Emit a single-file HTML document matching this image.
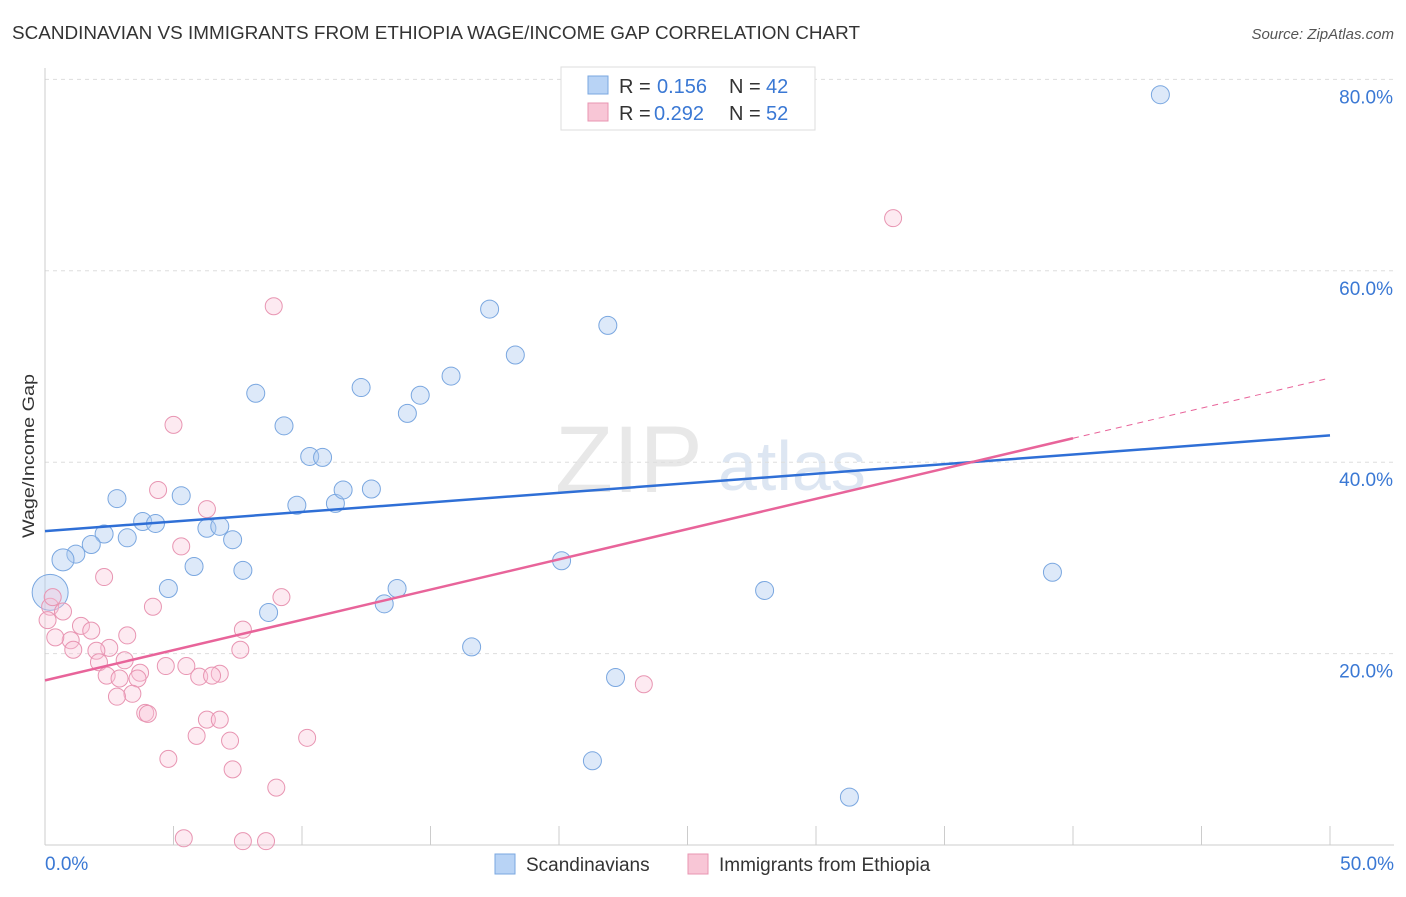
<!DOCTYPE html>
<html><head><meta charset="utf-8"><style>
body{margin:0;background:#fff;font-family:"Liberation Sans",sans-serif}
svg text{font-family:"Liberation Sans",sans-serif}
</style></head><body>
<svg id="chart" width="1406" height="892">
<text x="12" y="39" font-size="18" fill="#333" textLength="848" lengthAdjust="spacingAndGlyphs">SCANDINAVIAN VS IMMIGRANTS FROM ETHIOPIA WAGE/INCOME GAP CORRELATION CHART</text>
<text x="1394" y="39" font-size="15" fill="#555" text-anchor="end" font-style="italic">Source: ZipAtlas.com</text>
<text x="555" y="492" font-size="95" fill="#e8e8e8" font-family="Liberation Serif">ZIP</text>
<text x="718" y="490" font-size="70" fill="#dde6f2">atlas</text>
<g id="grid"></g>
<g id="axes"></g>
<text x="34" y="456" font-size="17" fill="#333" text-anchor="middle" textLength="164" lengthAdjust="spacingAndGlyphs" transform="rotate(-90 34 456)">Wage/Income Gap</text>
<g id="marks"></g>
<g id="trends"></g>
<g>
<rect x="561" y="67" width="254" height="63" fill="#fff" stroke="#ddd"/>
<rect x="588" y="76" width="20" height="18" fill="#b8d3f5" stroke="#7aa7e0"/>
<text x="619" y="93" font-size="20" fill="#333">R = </text><text x="657" y="93" font-size="20" fill="#3a78d4">0.156</text>
<text x="729" y="93" font-size="20" fill="#333">N = </text><text x="766" y="93" font-size="20" fill="#3a78d4">42</text>
<rect x="588" y="103" width="20" height="18" fill="#f8c6d6" stroke="#e895b2"/>
<text x="619" y="120" font-size="20" fill="#333">R = </text><text x="654" y="120" font-size="20" fill="#3a78d4">0.292</text>
<text x="729" y="120" font-size="20" fill="#333">N = </text><text x="766" y="120" font-size="20" fill="#3a78d4">52</text>
</g>
<g>
<rect x="495" y="854" width="20" height="20" fill="#b8d3f5" stroke="#7aa7e0"/>
<text x="526" y="871" font-size="19" fill="#333">Scandinavians</text>
<rect x="688" y="854" width="20" height="20" fill="#f8c6d6" stroke="#e895b2"/>
<text x="719" y="871" font-size="19" fill="#333">Immigrants from Ethiopia</text>
</g>
</svg>
<script>
const xTicks=[0,5,10,15,20,25,30,35,40,45,50];
const yTicks=[20,40,60,80];
const blueX=[43.4,17.3,21.9,18.3,15.8,12.3,14.6,8.2,14.1,9.3,10.3,10.8,2.8,5.3,9.8,11.3,11.6,12.7,3.8,4.3,2.3,3.2,6.3,6.8,7.3,1.8,1.2,0.7,0.2,20.1,5.8,7.7,4.8,13.7,13.2,8.7,28.0,39.2,16.6,22.2,21.3,31.3];
const blueY=[78.4,56,54.3,51.2,49,47.8,47,47.2,45.1,43.8,40.6,40.5,36.2,36.5,35.5,35.7,37.1,37.2,33.8,33.6,32.5,32.1,33.1,33.3,31.9,31.4,30.4,29.8,26.4,29.7,29.1,28.7,26.8,26.8,25.2,24.3,26.6,28.5,20.7,17.5,8.8,5.0];
const blueR=[9,9,9,9,9,9,9,9,9,9,9,9,9,9,9,9,9,9,9,9,9,9,9,9,9,9,9,11,18,9,9,9,9,9,9,9,9,9,9,9,9,9];
const pinkX=[33.0,8.9,5.0,4.4,6.3,5.3,2.3,4.2,9.2,0.2,0.7,0.1,1.4,1.8,1.0,0.4,1.1,3.2,7.7,2.5,2.0,2.1,3.1,7.6,4.7,5.5,6.8,3.7,2.4,2.9,3.6,6.0,6.5,23.3,3.4,2.8,3.9,4.0,6.3,6.8,5.9,7.2,10.2,4.8,7.3,9.0,5.4,7.7,8.6,0.3];
const pinkY=[65.5,56.3,43.9,37.1,35.1,31.2,28.0,24.9,25.9,24.9,24.4,23.5,22.9,22.4,21.4,21.7,20.4,21.9,22.5,20.6,20.3,19.1,19.3,20.4,18.7,18.7,17.9,18.0,17.7,17.4,17.4,17.6,17.7,16.8,15.8,15.5,13.8,13.7,13.1,13.1,11.4,10.9,11.2,9.0,7.9,6.0,0.7,0.4,0.4,25.9];
const blueTrend=[0,32.8,50,42.8];
const pinkTrend=[0,17.2,40,42.5,50,48.8];
const X=v=>45+v*25.7, Y=v=>845-v*9.57;
const NS="http://www.w3.org/2000/svg";
function mk(tag,at,parent){const e=document.createElementNS(NS,tag);for(const k in at)e.setAttribute(k,at[k]);document.getElementById(parent).appendChild(e);return e;}
yTicks.forEach(t=>{
 const l=mk('line',{x1:45,x2:1394,y1:Y(t),y2:Y(t),stroke:'#ddd','stroke-dasharray':'4,4'},'grid');
 
 
 const tx=mk('text',{x:1393,y:Y(t)+24,'font-size':19,fill:'#3a78d4','text-anchor':'end'},'axes');
 tx.textContent=t.toFixed(1)+'%';
 
 
});
const ax=mk('line',{x1:45,x2:45,y1:68,y2:845,stroke:'#ccc'},'axes');


const bx=mk('line',{x1:45,x2:1394,y1:845,y2:845,stroke:'#ccc'},'axes');


xTicks.forEach(t=>{
 const l=mk('line',{x1:X(t),x2:X(t),y1:826,y2:845,stroke:'#ccc'},'axes');
 
 
});
[[0,'start',45],[50,'end',1394]].forEach(([t,a,x])=>{
 const tx=mk('text',{x:x,y:870,'font-size':19,fill:'#3a78d4','text-anchor':a},'axes');
 tx.textContent=t.toFixed(1)+'%';
 
 
});
blueX.forEach((v,i)=>{
 const c=mk('circle',{cx:X(v),cy:Y(blueY[i]),r:blueR[i],fill:'rgba(170,200,240,0.4)',stroke:'#7aa7e0','stroke-width':1},'marks');
 
 
});
pinkX.forEach((v,i)=>{
 const c=mk('circle',{cx:X(v),cy:Y(pinkY[i]),r:8.5,fill:'rgba(248,195,215,0.35)',stroke:'#e895b2','stroke-width':1},'marks');
 
 
});
const bt=mk('line',{x1:X(blueTrend[0]),y1:Y(blueTrend[1]),x2:X(blueTrend[2]),y2:Y(blueTrend[3]),stroke:'#2f6fd6','stroke-width':2.5},'trends');


const pt=mk('line',{x1:X(pinkTrend[0]),y1:Y(pinkTrend[1]),x2:X(pinkTrend[2]),y2:Y(pinkTrend[3]),stroke:'#e8649a','stroke-width':2.5},'trends');


const pd=mk('line',{x1:X(pinkTrend[2]),y1:Y(pinkTrend[3]),x2:X(pinkTrend[4]),y2:Y(pinkTrend[5]),stroke:'#e8649a','stroke-width':1,'stroke-dasharray':'6,5'},'trends');


</script>
</body></html>
